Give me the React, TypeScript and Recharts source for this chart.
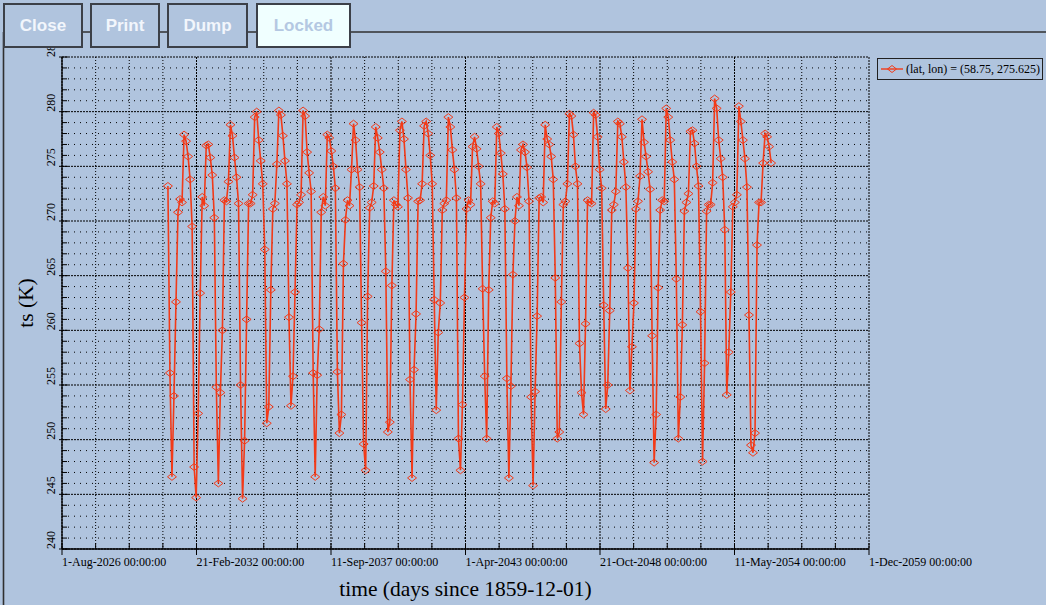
import React from 'react';
import { LineChart, Line, XAxis, YAxis, CartesianGrid } from 'recharts';

// Monthly surface temperature ts (K), one array per Dec..Nov season
const s2031 = [273.2, 256.1, 246.6, 254.0, 262.6, 270.8, 272.0, 271.7, 277.9, 277.3, 275.9, 273.8];
const s2032 = [269.5, 247.5, 244.7, 252.4, 263.4, 272.2, 271.4, 276.9, 277.0, 275.8, 274.2, 270.3];
const s2033 = [254.8, 246.0, 254.3, 260.0, 271.9, 271.8, 273.6, 278.8, 277.8, 275.8, 274.0, 271.6];
const s2034 = [255.0, 244.6, 249.9, 261.0, 271.6, 271.6, 272.4, 279.5, 280.0, 277.4, 275.5, 273.4];
const s2035 = [267.4, 251.5, 253.0, 263.7, 271.1, 271.6, 275.2, 280.1, 279.7, 277.8, 275.5, 273.4];
const s2036 = [261.2, 253.1, 255.8, 263.5, 271.5, 271.7, 272.4, 280.1, 279.6, 276.3, 274.4, 272.7];
const s2037 = [256.1, 246.6, 255.9, 260.1, 270.8, 272.2, 271.4, 277.9, 277.6, 276.4, 275.0, 273.0];
const s2038 = [256.2, 250.6, 252.3, 266.1, 270.1, 271.9, 271.4, 274.7, 278.9, 277.4, 274.7, 273.1];
const s2039 = [260.7, 249.6, 247.2, 263.1, 271.2, 271.7, 273.2, 278.6, 277.6, 276.3, 274.7, 273.0];
const s2040 = [265.4, 250.7, 251.6, 264.1, 271.9, 271.5, 271.3, 278.3, 279.1, 277.5, 274.7, 272.1];
const s2041 = [255.5, 246.5, 256.4, 261.5, 271.8, 271.9, 273.4, 278.7, 279.1, 278.0, 276.0, 273.4];
const s2042 = [262.8, 252.7, 259.8, 262.5, 271.0, 271.6, 271.9, 279.5, 278.6, 276.5, 274.7, 272.1];
const s2043 = [250.1, 247.2, 253.2, 263.0, 271.1, 271.9, 271.5, 276.8, 277.7, 276.6, 275.0, 273.4];
const s2044 = [263.8, 255.8, 250.1, 263.7, 270.3, 271.8, 271.6, 278.6, 278.0, 276.2, 274.3, 271.1];
const s2045 = [255.6, 246.5, 254.9, 265.1, 270.0, 272.2, 271.4, 276.5, 277.0, 276.3, 274.9, 271.8];
const s2046 = [253.9, 245.8, 254.4, 261.3, 272.1, 272.2, 271.7, 278.8, 277.5, 277.0, 275.9, 273.8];
const s2047 = [264.8, 250.1, 250.7, 262.6, 271.5, 271.8, 273.4, 279.8, 279.6, 277.9, 275.0, 273.4];
const s2048 = [258.8, 254.3, 252.3, 260.6, 271.9, 271.7, 271.6, 279.9, 279.7, 277.7, 274.7, 273.0];
const s2049 = [262.3, 252.8, 255.0, 261.8, 271.0, 271.5, 272.7, 279.1, 278.9, 277.7, 275.4, 273.1];
const s2050 = [265.7, 254.5, 258.5, 262.5, 271.1, 271.8, 274.1, 279.3, 277.2, 275.9, 274.5, 272.9];
const s2051 = [259.5, 247.9, 252.3, 263.9, 271.0, 271.9, 271.8, 280.3, 279.5, 277.4, 275.4, 273.8];
const s2052 = [264.7, 250.1, 253.9, 260.5, 270.9, 271.7, 272.5, 278.2, 278.3, 277.1, 275.0, 273.2];
const s2053 = [261.7, 248.0, 257.0, 270.9, 271.5, 271.5, 273.5, 281.2, 280.3, 277.4, 275.7, 274.0];
const s2054 = [269.2, 254.1, 258.0, 263.5, 271.3, 271.7, 272.4, 280.5, 279.1, 277.4, 275.7, 273.1];
const s2055 = [261.4, 249.5, 248.8, 250.6, 267.8, 271.7, 271.7, 275.3, 278.0, 277.7, 276.8, 275.3];

const seasons = [s2031, s2032, s2033, s2034, s2035, s2036, s2037, s2038, s2039, s2040, s2041, s2042,
  s2043, s2044, s2045, s2046, s2047, s2048, s2049, s2050, s2051, s2052, s2053, s2054, s2055];

// time axis in months after 1-Aug-2026; first sample is mid-Dec-2030
const firstSampleMonth = 52.5;
const axisSpanMonths = 400;
const xTickLabels = [
  '1-Aug-2026 00:00:00', '21-Feb-2032 00:00:00', '11-Sep-2037 00:00:00', '1-Apr-2043 00:00:00',
  '21-Oct-2048 00:00:00', '11-May-2054 00:00:00', '1-Dec-2059 00:00:00',
];
const xSubdiv = 4;
const yMajorTicks = [240, 245, 250, 255, 260, 265, 270, 275, 280, 285];

const data = seasons.flat().map((ts, i) => ({ t: firstSampleMonth + i, ts }));

const nX = (xTickLabels.length - 1) * xSubdiv;
const xAllTicks = Array.from({ length: nX + 1 }, (_, j) => (j * axisSpanMonths) / nX);
const xMajorVals = xAllTicks.filter((_, j) => j % xSubdiv === 0);
const xMinorVals = xAllTicks.filter((_, j) => j % xSubdiv !== 0);
const yAllTicks: number[] = [];
for (let v = yMajorTicks[0]; v <= yMajorTicks[yMajorTicks.length - 1]; v++) yAllTicks.push(v);
const yMinorVals = yAllTicks.filter((v) => v % 5 !== 0);

const RED = '#f23a18';
const SERIF = '"Liberation Serif", "Times New Roman", serif';
const SANS = '"Liberation Sans", Arial, sans-serif';

const YTick = (props: any) => {
  const { x, y, payload } = props;
  const v = payload.value;
  const major = v % 5 === 0;
  return (
    <g>
      {major ? (
        <line x1={x - 3} x2={x + 6} y1={y} y2={y} stroke="#000" />
      ) : (
        <line x1={x} x2={x + 5} y1={y} y2={y} stroke="#000" />
      )}
      {major && (
        <text
          transform={`translate(${x - 7},${y}) rotate(-90)`}
          textAnchor="start"
          fontFamily={SERIF}
          fontSize={12}
          fill="#000"
        >
          {v}
        </text>
      )}
    </g>
  );
};

const XTick = (props: any) => {
  const { x, y, payload } = props;
  const j = Math.round((payload.value * nX) / axisSpanMonths);
  const major = j % xSubdiv === 0;
  return (
    <g>
      {major ? (
        <line x1={x} x2={x} y1={y - 6} y2={y + 6} stroke="#000" />
      ) : (
        <line x1={x} x2={x} y1={y - 6} y2={y} stroke="#000" />
      )}
      {major && (
        <text x={x} y={y + 17} textAnchor="start" fontFamily={SERIF} fontSize={12} fill="#000">
          {xTickLabels[j / xSubdiv]}
        </text>
      )}
    </g>
  );
};

const Diamond = (props: any) => {
  const { cx, cy, index } = props;
  if (cx == null || cy == null) return <g key={index} />;
  return (
    <path
      key={index}
      d={`M${cx - 4.5},${cy} L${cx},${cy - 3.5} L${cx + 4.5},${cy} L${cx},${cy + 3.5} Z`}
      fill="none"
      stroke={RED}
      strokeWidth={1}
    />
  );
};

const buttonBase: React.CSSProperties = {
  position: 'absolute',
  top: 3,
  height: 45,
  boxSizing: 'border-box',
  border: '2px solid #3c4048',
  background: '#b0c4de',
  color: '#f2f6fc',
  fontFamily: SANS,
  fontWeight: 'bold',
  fontSize: 17,
  display: 'flex',
  alignItems: 'center',
  justifyContent: 'center',
};

export default function App() {
  return (
    <div
      style={{
        position: 'absolute',
        left: 0,
        top: 0,
        width: 1046,
        height: 605,
        background: '#b0c4de',
        overflow: 'hidden',
      }}
    >
      <svg width={1046} height={605} style={{ position: 'absolute', left: 0, top: 0 }}>
        <line x1={3} x2={1046} y1={32} y2={32} stroke="#303030" strokeWidth={1.6} />
        <line x1={3.5} x2={3.5} y1={32} y2={605} stroke="#303030" strokeWidth={1.6} />
        <text x={465.5} y={596} textAnchor="middle" fontFamily={SERIF} fontSize={21.5} fill="#000">
          time (days since 1859-12-01)
        </text>
        <text
          transform="translate(33,303) rotate(-90)"
          textAnchor="middle"
          fontFamily={SERIF}
          fontSize={21.5}
          fill="#000"
        >
          ts (K)
        </text>
      </svg>
      <div style={{ position: 'absolute', left: 0, top: 0 }}>
        <LineChart
          width={1046}
          height={605}
          data={data}
          margin={{ top: 57, right: 177, bottom: 0, left: 0 }}
        >
          <CartesianGrid horizontal={true} vertical={false} horizontalValues={yMinorVals} stroke="#000" strokeDasharray="1 5" />
          <CartesianGrid horizontal={true} vertical={false} horizontalValues={yMajorTicks} stroke="#000" strokeDasharray="2 1" />
          <CartesianGrid horizontal={false} vertical={true} verticalValues={xMinorVals} stroke="#000" strokeDasharray="1 2" />
          <CartesianGrid horizontal={false} vertical={true} verticalValues={xMajorVals} stroke="#000" strokeDasharray="2 1" />
          <XAxis
            type="number"
            dataKey="t"
            domain={[0, axisSpanMonths]}
            ticks={xAllTicks}
            interval={0}
            height={56}
            tickSize={0}
            tickMargin={0}
            tickLine={false}
            tick={<XTick />}
            axisLine={{ stroke: '#000', strokeWidth: 1.3 }}
            allowDataOverflow
          />
          <YAxis
            type="number"
            domain={[yMajorTicks[0], yMajorTicks[yMajorTicks.length - 1]]}
            ticks={yAllTicks}
            interval={0}
            width={62}
            tickSize={0}
            tickMargin={0}
            tickLine={false}
            tick={<YTick />}
            axisLine={{ stroke: '#000', strokeWidth: 1.3 }}
            allowDataOverflow
          />
          <Line
            type="linear"
            dataKey="ts"
            stroke={RED}
            strokeWidth={1.6}
            dot={(p: any) => <Diamond {...p} />}
            activeDot={false}
            isAnimationActive={false}
          />
        </LineChart>
      </div>
      <div style={{ ...buttonBase, left: 3, width: 80 }}>Close</div>
      <div style={{ ...buttonBase, left: 90, width: 70 }}>Print</div>
      <div style={{ ...buttonBase, left: 167, width: 81 }}>Dump</div>
      <div style={{ ...buttonBase, left: 256, width: 95, background: '#f0ffff', color: '#b4c8e2' }}>Locked</div>
      <div
        style={{
          position: 'absolute',
          left: 877,
          top: 58,
          width: 166,
          height: 22,
          boxSizing: 'border-box',
          border: '1.5px solid #202020',
          display: 'flex',
          alignItems: 'center',
          fontFamily: SERIF,
          fontSize: 12,
          color: '#000',
          whiteSpace: 'nowrap',
        }}
      >
        <svg width={28} height={12} style={{ flex: 'none' }}>
          <line x1={3} x2={25} y1={6} y2={6} stroke={RED} strokeWidth={1.4} />
          <path d="M9.5,6 L14,2.5 L18.5,6 L14,9.5 Z" fill="none" stroke={RED} strokeWidth={1} />
        </svg>
        <span>(lat, lon) = (58.75, 275.625)</span>
      </div>
    </div>
  );
}
